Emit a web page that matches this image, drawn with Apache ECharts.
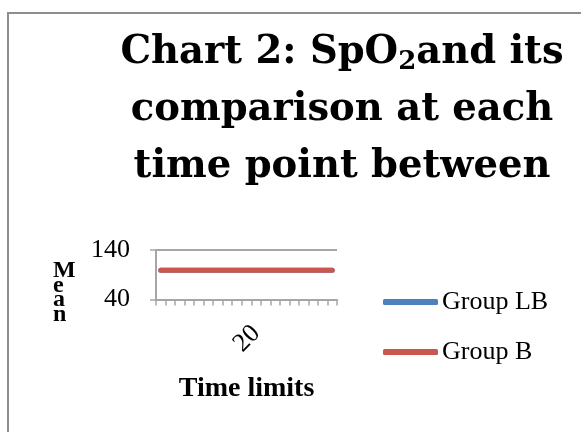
<!DOCTYPE html>
<html>
<head>
<meta charset="utf-8">
<title>SpO2 comparison</title>
<script src="https://cdn.jsdelivr.net/npm/echarts@6/dist/echarts.min.js"></script>
<style>
  html, body { margin: 0; padding: 0; background: #fff; }
  #chart { width: 581px; height: 432px; }
</style>
</head>
<body>
<div id="chart"></div>
<script>
// Time points (minutes) along the category axis
const timePoints = ['0','2','4','6','8','10','12','14','16','18','20','22','24','26','28','30','32','34','36'];
// Mean SpO2 per time point
const groupLB = [99,99,99,99,99,99,99,99,99,99,99,99,99,99,99,99,99,99,99];
const groupB  = [99,99,99,99,99,99,99,99,99,99,99,99,99,99,99,99,99,99,99];
// Value axis ticks
const yMin = 40, yMax = 140, yStep = 100;
const shownTimeLabel = '20';

const serif = '"Liberation Serif", "DejaVu Serif", serif';
const titleFont = '"DejaVu Serif", serif';
const axisGray = '#a6a6a6';

const chart = echarts.init(document.getElementById('chart'), null, { renderer: 'canvas' });
chart.setOption({
  backgroundColor: '#ffffff',
  animation: false,
  title: {
    text: 'Chart 2: SpO{sub|2}and its\ncomparison at each\ntime point between',
    left: 337,
    top: 19,
    textAlign: 'center',
    textStyle: {
      fontFamily: titleFont,
      fontWeight: 'bold',
      fontSize: 38.5,
      lineHeight: 57,
      color: '#000',
      rich: {
        sub: {
          fontFamily: titleFont,
          fontWeight: 'bold',
          fontSize: 26,
          lineHeight: 57,
          padding: [20, 0, 0, 0],
          color: '#000'
        }
      }
    }
  },
  graphic: [
    {
      type: 'rect',
      shape: { x: 8, y: 13, width: 640, height: 500 },
      style: { fill: 'none', stroke: '#8e8e8e', lineWidth: 2 },
      silent: true,
      z: -1
    },
    {
      // value axis title, letters stacked vertically
      type: 'text',
      left: 53,
      top: 259,
      style: {
        text: 'M\ne\na\nn',
        fontFamily: serif,
        fontWeight: 'bold',
        fontSize: 24,
        lineHeight: 14.5,
        align: 'center',
        fill: '#000'
      }
    }
  ],
  legend: {
    orient: 'vertical',
    left: 383,
    top: 287,
    padding: 0,
    icon: 'roundRect',
    itemWidth: 55,
    itemHeight: 6,
    itemGap: 20,
    textStyle: { fontFamily: serif, fontSize: 26, lineHeight: 30, color: '#000', padding: [0, 0, 0, -1] },
    data: ['Group LB', 'Group B']
  },
  grid: { left: 156, right: 244, top: 250, bottom: 132.5 },
  xAxis: {
    type: 'category',
    data: timePoints,
    boundaryGap: true,
    name: 'Time limits',
    nameLocation: 'middle',
    nameGap: 75,
    nameTextStyle: { fontFamily: serif, fontWeight: 'bold', fontSize: 28, color: '#000' },
    axisLine: { lineStyle: { color: axisGray, width: 2 } },
    axisTick: { show: true, length: 6, interval: 0, lineStyle: { color: axisGray, width: 1.5 } },
    axisLabel: {
      rotate: 45,
      margin: 30,
      interval: (idx, val) => val === shownTimeLabel,
      fontFamily: serif,
      fontSize: 26,
      color: '#000'
    },
    splitLine: { show: false }
  },
  yAxis: {
    type: 'value',
    min: yMin,
    max: yMax,
    interval: yStep,
    axisLine: { show: true, lineStyle: { color: axisGray, width: 2 } },
    axisTick: { show: true, length: 6, lineStyle: { color: axisGray, width: 1.5 } },
    axisLabel: { margin: 26, fontFamily: serif, fontSize: 26, color: '#000' },
    splitLine: { show: true, lineStyle: { color: axisGray, width: 2 } }
  },
  series: [
    {
      name: 'Group LB',
      type: 'line',
      data: groupLB,
      symbol: 'none',
      color: '#4f81bd',
      lineStyle: { width: 5, cap: 'round', color: '#4f81bd' }
    },
    {
      name: 'Group B',
      type: 'line',
      data: groupB,
      symbol: 'none',
      color: '#c9564f',
      lineStyle: { width: 5, cap: 'round', color: '#c9564f' }
    }
  ]
});
</script>
</body>
</html>
